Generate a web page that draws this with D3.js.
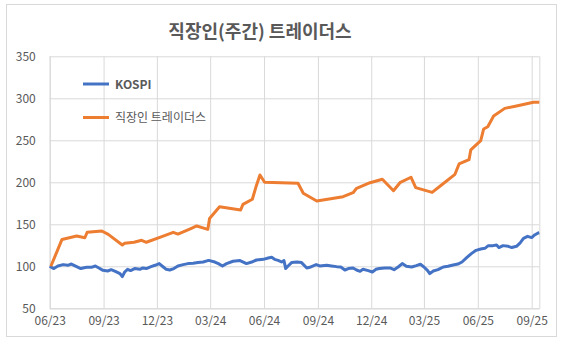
<!DOCTYPE html>
<html>
<head>
<meta charset="utf-8">
<script src="https://cdn.jsdelivr.net/npm/d3@7"></script>
<style>
html,body{margin:0;padding:0;background:#fff;}
svg{display:block;}
text{font-family:"Noto Sans CJK KR","Noto Sans",sans-serif;fill:#595959;}
</style>
</head>
<body>
<svg id="chart" width="563" height="346"></svg>
<script>
const chartTitle = "직장인(주간) 트레이더스";
const seriesNames = ["KOSPI", "직장인 트레이더스"];
const seriesColors = ["#4472C4", "#ED7D31"];
const yTicks = [50, 100, 150, 200, 250, 300, 350];
const xTickDates = ["2023-06-01","2023-09-01","2023-12-01","2024-03-01","2024-06-01","2024-09-01","2024-12-01","2025-03-01","2025-06-01","2025-09-01"];
const xTickLabels = ["06/23","09/23","12/23","03/24","06/24","09/24","12/24","03/25","06/25","09/25"];

// KOSPI (normalised to 100)
const kospiDates = ["2023-06-01","2023-06-08","2023-06-15","2023-06-24","2023-07-02","2023-07-08","2023-07-17","2023-07-24","2023-08-03","2023-08-11","2023-08-18","2023-08-24","2023-08-31","2023-09-08","2023-09-14","2023-09-21","2023-09-29","2023-10-03","2023-10-07","2023-10-12","2023-10-17","2023-10-24","2023-11-02","2023-11-07","2023-11-13","2023-11-21","2023-11-28","2023-12-05","2023-12-12","2023-12-17","2023-12-23","2023-12-30","2024-01-06","2024-01-15","2024-01-23","2024-02-01","2024-02-09","2024-02-18","2024-02-26","2024-02-29","2024-03-09","2024-03-15","2024-03-22","2024-03-29","2024-04-09","2024-04-21","2024-05-02","2024-05-11","2024-05-19","2024-05-31","2024-06-08","2024-06-14","2024-06-19","2024-06-25","2024-07-01","2024-07-05","2024-07-08","2024-07-12","2024-07-18","2024-07-27","2024-08-04","2024-08-13","2024-08-18","2024-08-29","2024-09-04","2024-09-16","2024-09-24","2024-10-03","2024-10-10","2024-10-17","2024-10-23","2024-10-31","2024-11-06","2024-11-12","2024-11-17","2024-11-26","2024-12-03","2024-12-09","2024-12-15","2024-12-24","2025-01-02","2025-01-09","2025-01-16","2025-01-23","2025-01-30","2025-02-08","2025-02-16","2025-02-23","2025-03-01","2025-03-07","2025-03-11","2025-03-17","2025-03-25","2025-04-03","2025-04-11","2025-04-20","2025-04-28","2025-05-05","2025-05-13","2025-05-21","2025-05-29","2025-06-06","2025-06-13","2025-06-19","2025-06-27","2025-07-03","2025-07-07","2025-07-14","2025-07-23","2025-07-29","2025-08-06","2025-08-12","2025-08-18","2025-08-25","2025-09-01","2025-09-06","2025-09-12","2025-09-14"];
const kospiValues = [100,97.3,100.4,102,101.2,102.7,99.6,97.3,98.8,98.8,100.4,98,95.2,94.4,96,94,91.3,87.7,93.2,96.4,94.9,97.3,96.4,98,97.3,99.6,101.2,103.2,99.2,96.4,95.6,97.3,100.4,102,103.2,103.6,104.4,105.1,106.8,106.8,105.1,103.2,100.4,103.2,106,106.8,103.2,105.1,107.5,108.3,109.9,110.7,108.3,107.1,105.1,106.8,97.3,100.4,104.4,105.1,104.4,98,98.8,102,100.4,101.2,100.4,99.6,99.2,95.6,97.3,98,95.6,94,96.4,94.9,93.2,96.4,97.3,98,98,96,99.2,103.2,100,99.2,100.8,102.4,99.2,95.2,91.3,94.4,96,99.2,100,101.6,102.7,105.1,110.4,115.1,119,120.6,121.4,124.6,124.6,125.4,122.3,124.6,123.8,122.3,123.8,127.7,133.3,135.7,134.2,137.3,139.7,140];

// 직장인 트레이더스 (weekly)
const traderDates = ["2023-06-03","2023-06-22","2023-07-17","2023-07-31","2023-08-04","2023-08-29","2023-09-09","2023-10-03","2023-10-07","2023-10-23","2023-11-05","2023-11-13","2023-12-06","2023-12-29","2024-01-06","2024-01-29","2024-02-07","2024-02-26","2024-02-29","2024-03-17","2024-04-22","2024-04-26","2024-05-12","2024-05-18","2024-05-25","2024-06-02","2024-07-29","2024-08-07","2024-08-30","2024-10-14","2024-10-31","2024-11-06","2024-11-29","2024-12-20","2025-01-08","2025-01-19","2025-02-07","2025-02-15","2025-03-15","2025-03-31","2025-04-23","2025-04-30","2025-05-17","2025-05-20","2025-06-06","2025-06-11","2025-06-18","2025-06-28","2025-07-17","2025-08-06","2025-09-04","2025-09-14"];
const traderValues = [100,132,136,134,140.5,142,138,125.4,127.4,128.6,131,128.6,134.5,140.5,138.4,145.2,148,144,157,171,167,173.8,179.8,194,208.7,200,198.8,186.9,177.7,182.9,187.6,192.9,199.5,203.6,190,199.5,206,193.6,188,196.8,209.5,221.8,226.9,238.5,249.5,263.5,266.2,278.9,288,290.8,295.2,295.2];

const parse = d3.utcParse("%Y-%m-%d");
const kospi = kospiDates.map((d,i)=>({date:parse(d), value:kospiValues[i]}));
const trader = traderDates.map((d,i)=>({date:parse(d), value:traderValues[i]}));

const svg = d3.select("#chart");
const plot = {left:49.7, right:539.3, top:56.3, bottom:308.3};

// outer border
svg.append("rect").attr("x",6.5).attr("y",4.5).attr("width",550).attr("height",332)
  .attr("fill","#fff").attr("stroke","#D9D9D9").attr("stroke-width",1);

const x = d3.scaleUtc().domain(d3.extent(kospi, d=>d.date)).range([plot.left, plot.right]);
const y = d3.scaleLinear().domain([yTicks[0], yTicks[yTicks.length-1]]).range([plot.bottom, plot.top]);

// horizontal gridlines + y labels
const yAxis = d3.axisLeft(y).tickValues(yTicks).tickSize(-(plot.right-plot.left)).tickPadding(14);
const gy = svg.append("g").attr("transform",`translate(${plot.left},0)`).call(yAxis);
gy.select(".domain").remove();
gy.selectAll(".tick line").attr("stroke","#D9D9D9").attr("stroke-width",1);
gy.selectAll(".tick text").attr("font-size",12).attr("fill","#595959")
  .style("font-family","'Noto Sans CJK KR','Noto Sans',sans-serif");

// vertical gridlines + x labels
const tickDates = xTickDates.map(parse);
const xAxis = d3.axisBottom(x).tickValues(tickDates)
  .tickFormat((d,i)=>xTickLabels[i]).tickSize(-(plot.bottom-plot.top)).tickPadding(8);
const gx = svg.append("g").attr("transform",`translate(0,${plot.bottom})`).call(xAxis);
gx.select(".domain").attr("stroke","#D9D9D9");
gx.selectAll(".tick line").attr("stroke","#D9D9D9").attr("stroke-width",1);
gx.selectAll(".tick text").attr("font-size",12).attr("fill","#595959")
  .style("font-family","'Noto Sans CJK KR','Noto Sans',sans-serif");

// lines
const line = d3.line().x(d=>x(d.date)).y(d=>y(d.value));
svg.append("path").datum(kospi).attr("d",line).attr("fill","none")
  .attr("stroke",seriesColors[0]).attr("stroke-width",3).attr("stroke-linejoin","round");
svg.append("path").datum(trader).attr("d",line).attr("fill","none")
  .attr("stroke",seriesColors[1]).attr("stroke-width",3).attr("stroke-linejoin","round");

// title
svg.append("text").attr("x",260).attr("y",37.5).attr("text-anchor","middle")
  .attr("font-size",18).attr("font-weight","bold").attr("fill","#595959").text(chartTitle);

// legend
const legendY = [84, 117.5];
seriesNames.forEach((n,i)=>{
  svg.append("line").attr("x1",83).attr("x2",109).attr("y1",legendY[i]).attr("y2",legendY[i])
    .attr("stroke",seriesColors[i]).attr("stroke-width",3);
  svg.append("text").attr("x",115).attr("y",legendY[i]+4.5).attr("font-size",12)
    .attr("font-weight", i===0 ? "bold" : "normal").attr("fill","#595959").text(n);
});
</script>
</body>
</html>
